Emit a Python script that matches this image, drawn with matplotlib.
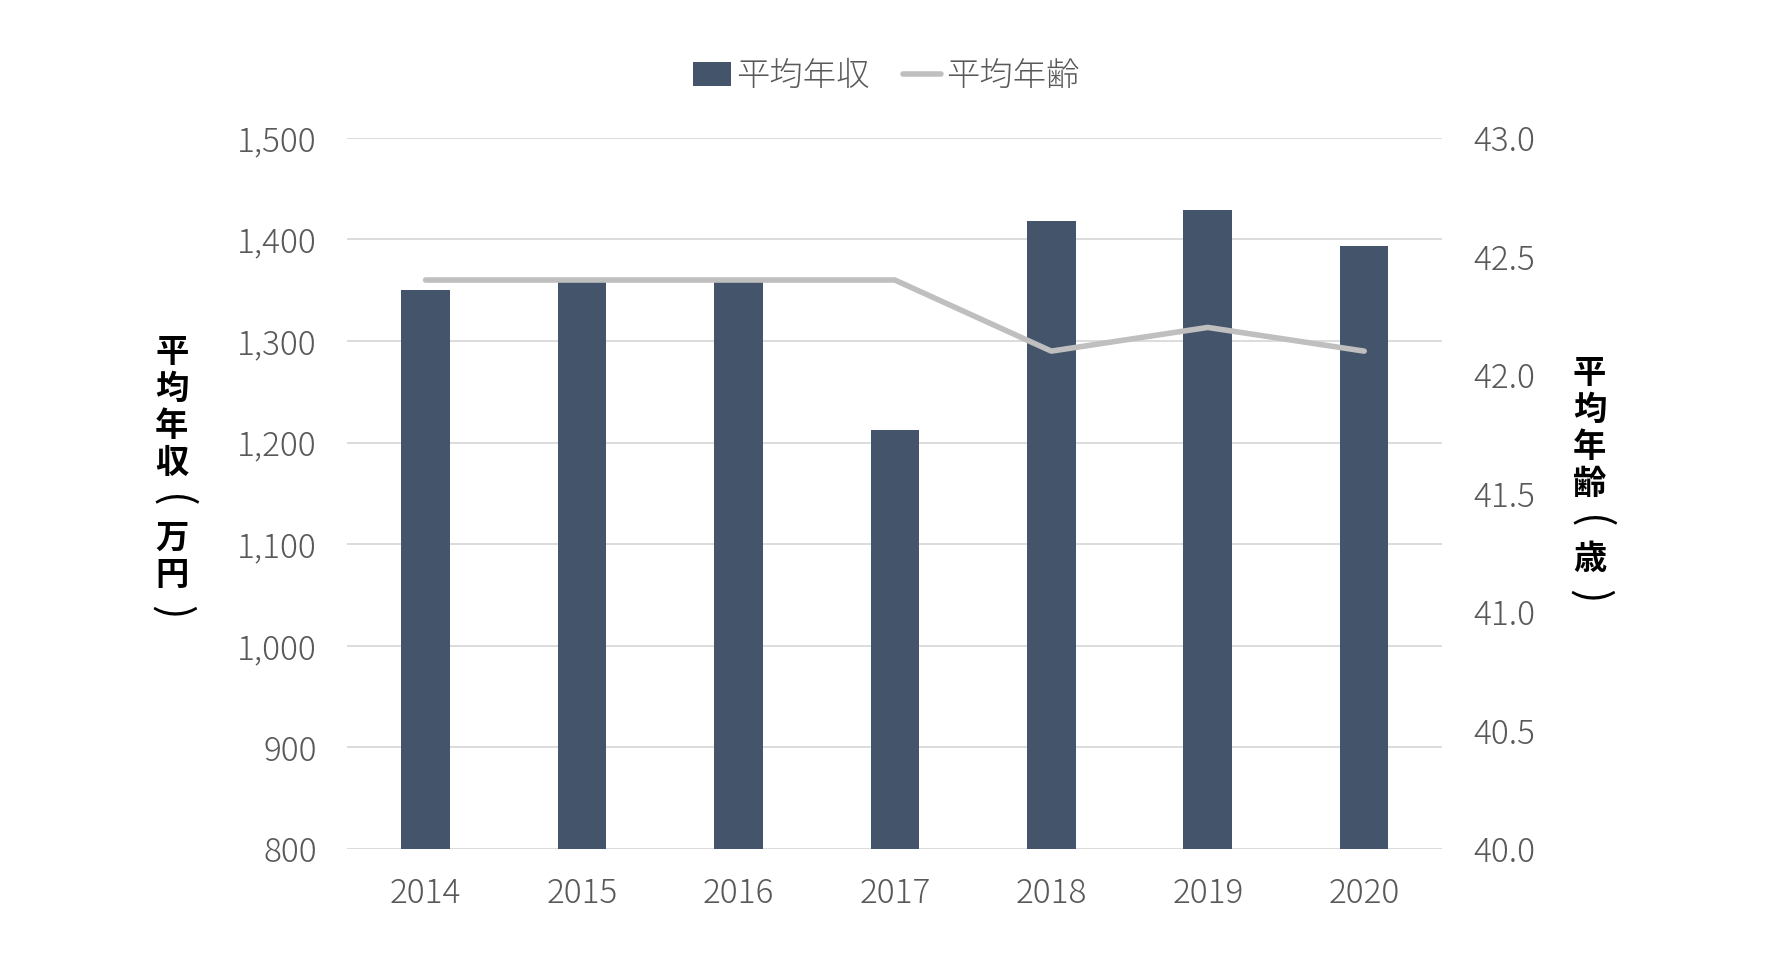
import matplotlib.pyplot as plt
import numpy as np

plt.rcParams['font.family'] = ['Noto Sans CJK JP', 'DejaVu Sans']

years = ['2014', '2015', '2016', '2017', '2018', '2019', '2020']
salary = [1350, 1358, 1358, 1212, 1418, 1429, 1393]
age = [42.4, 42.4, 42.4, 42.4, 42.1, 42.2, 42.1]

left_label = ['平', '均', '年', '収', '(', '万', '円', ')']
right_label = ['平', '均', '年', '齢', '(', '歳', ')']

bar_color = '#44546a'
line_color = '#bfbfbf'
tick_color = '#595959'

fig = plt.figure(figsize=(17.72, 9.57), dpi=100)
ax = fig.add_axes([0.196, 0.113, 0.618, 0.743])
ax2 = ax.twinx()

x = np.arange(len(years))
bars = ax.bar(x, salary, width=0.31, color=bar_color, zorder=2, label='平均年収')
line, = ax2.plot(x, age, color=line_color, lw=4, solid_capstyle='round', label='平均年齢', zorder=3)

ax.set_ylim(800, 1500)
ax.set_yticks(range(800, 1501, 100))
ax.set_yticklabels([f'{v:,}' for v in range(800, 1501, 100)])
ax2.set_ylim(40, 43)
ax2.set_yticks(np.arange(40, 43.01, 0.5))
ax2.set_yticklabels([f'{v:.1f}' for v in np.arange(40, 43.01, 0.5)])
ax.set_xlim(-0.5, len(years) - 0.5)
ax.set_xticks(x)
ax.set_xticklabels(years)

ax.grid(axis='y', color='#d9d9d9', lw=1.3, zorder=0)
ax.set_axisbelow(True)
for a in (ax, ax2):
    for s in a.spines.values():
        s.set_visible(False)
    a.tick_params(length=0, labelsize=24, colors=tick_color)
    for t in a.get_xticklabels() + a.get_yticklabels():
        t.set_fontweight(300)
ax.tick_params(axis='y', pad=22)
ax2.tick_params(axis='y', pad=22)
ax.tick_params(axis='x', pad=20)


def vertical_label(xpos, ytop, chars):
    # stack characters top to bottom, brackets turned for vertical writing
    step = 0.0389
    for i, ch in enumerate(chars):
        if ch in '()':
            fig.text(xpos, ytop - i * step, ch, ha='center', va='center', rotation=-90,
                     fontsize=31, fontweight='normal', color='black')
        else:
            fig.text(xpos, ytop - i * step, ch, ha='center', va='center',
                     fontsize=24, fontweight='bold', color='black')


vertical_label(0.097, 0.632, left_label)
vertical_label(0.897, 0.610, right_label)

leg = fig.legend(handles=[bars, line], loc='center', bbox_to_anchor=(0.5, 0.92), ncol=2,
                 frameon=False, fontsize=24, labelcolor=tick_color, handlelength=1.15,
                 handletextpad=0.15, columnspacing=1.0)
for t in leg.get_texts():
    t.set_fontweight(300)

fig.savefig('out.png', dpi=100)
